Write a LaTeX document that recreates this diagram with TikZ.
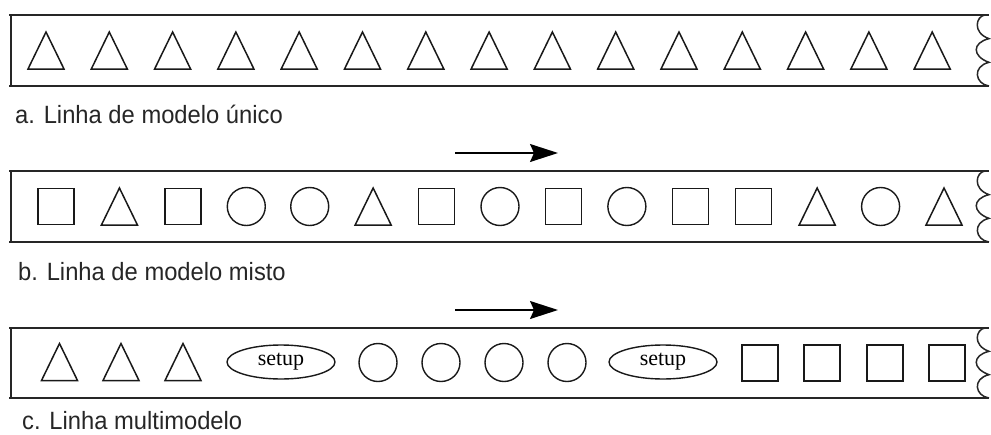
\documentclass[tikz,border=0pt]{standalone}
\usepackage{fontspec}
\setmainfont{Liberation Sans}
\newfontfamily\serifsetup{Liberation Serif}
\usetikzlibrary{arrows.meta,shapes.geometric}
\newcommand\mytri[2]{\node[slot] (#1) at (#2) {}; \draw[shp] (#1.south west) -- (#1.north) -- (#1.south east) -- cycle;}
\newcommand\mysq[2]{\node[sqr] (#1) at (#2) {};}
\newcommand\mycirc[2]{\node[circ] (#1) at (#2) {};}
\newcommand\narrowtext[1]{\scalebox{0.95}[1]{#1}}
\newcommand\mybox[2]{%
  \draw[boxline] (9,#1) -- (989,#1);
  \draw[boxline] (9,#2) -- (989,#2);
  \draw[boxline] (11,#1) -- (11,#2);
  \draw[waveline] (985,#1)
    .. controls ({976},{#1+1}) and ({972},{#1+(#2-#1)/3-6}) .. ({989},{#1+(#2-#1)/3})
    .. controls ({972},{#1+(#2-#1)/3+4}) and ({972},{#1+2*(#2-#1)/3-6}) .. ({989},{#1+2*(#2-#1)/3})
    .. controls ({972},{#1+2*(#2-#1)/3+4}) and ({975},{#2-2}) .. ({989},{#2});
}
\begin{document}
\begin{tikzpicture}[x=1pt,y=-1pt,
  boxline/.style={line width=1.7pt, draw=black!85},
  waveline/.style={line width=1.5pt, draw=black!85},
  shp/.style={line width=1.5pt, draw=black!90, line join=miter},
  slot/.style={minimum width=36pt, minimum height=37pt, inner sep=0pt, outer sep=0pt},
  sqr/.style={draw=black!90, line width=1.5pt, minimum width=36pt, minimum height=36pt, inner sep=0pt},
  circ/.style={circle, draw=black!90, line width=1.4pt, minimum size=38pt, inner sep=0pt},
  setupe/.style={ellipse, draw=black!90, line width=1.4pt, minimum width=108pt, minimum height=34pt, inner sep=0pt, font=\serifsetup\fontsize{22}{24}\selectfont},
  lbl/.style={anchor=base west, inner sep=0pt, text=black!85, font=\fontsize{25}{28}\selectfont},
  flow/.style={line width=1.5pt, draw=black, -{Stealth[length=28pt, width=18pt, inset=4pt]}}
]
\useasboundingbox (0,0) rectangle (991,434);

% row a
\mybox{15}{86}
\foreach \i in {0,...,14} { \mytri{a\i}{{46+63.3*\i},50.5} }
\node[lbl] (la) at (15,123) {\narrowtext{a. Linha de modelo único}};

% row b
\coordinate (arbs) at (455,153);
\coordinate (arbe) at (558,153);
\draw[flow] (arbs) -- (arbe);
\mybox{171}{242}
\foreach \m [count=\i from 0] in {\mysq,\mytri,\mysq,\mycirc,\mycirc,\mytri,\mysq,\mycirc,\mysq,\mycirc,\mysq,\mysq,\mytri,\mycirc,\mytri}
  { \m{b\i}{{56+63.43*\i},206.5} }
\node[lbl] (lb) at (18,280) {\narrowtext{b. Linha de modelo misto}};

% row c
\coordinate (arcs) at (455,310);
\coordinate (arce) at (558,310);
\draw[flow] (arcs) -- (arce);
\mybox{328}{398}
\mytri{c0}{59.5,362}
\mytri{c1}{121,362}
\mytri{c2}{183,362}
\node[setupe] (s1) at (281,362) {setup};
\mycirc{c3}{378,362.5}
\mycirc{c4}{441,362.5}
\mycirc{c5}{504,362.5}
\mycirc{c6}{567,362.5}
\node[setupe] (s2) at (663,362) {setup};
\mysq{c7}{760,363}
\mysq{c8}{822,363}
\mysq{c9}{885,363}
\mysq{c10}{947,363}
\node[lbl] (lc) at (22,429.5) {\narrowtext{c. Linha multimodelo}};
\end{tikzpicture}
\end{document}
